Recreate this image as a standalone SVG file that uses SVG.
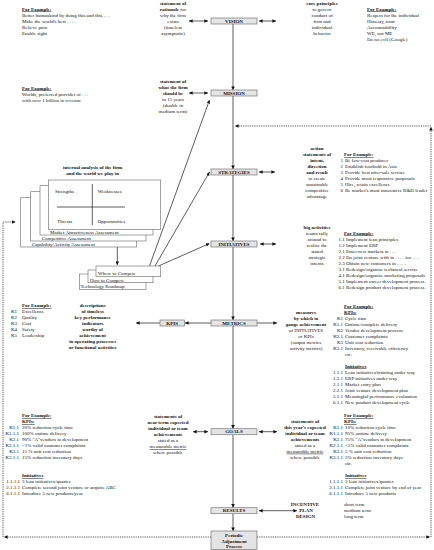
<svg xmlns="http://www.w3.org/2000/svg" width="434" height="550" viewBox="0 0 434 550">
<style>
.t{font-family:"Liberation Serif","Times New Roman",serif;font-size:5px;fill:#111}
.b{font-weight:bold}
.u{text-decoration:underline}
.m{text-anchor:middle}
.e{text-anchor:end}
.box{fill:#e4e4e4;stroke:#777;stroke-width:0.7}
.sb{fill:#fff;stroke:#666;stroke-width:0.6}
.ln{stroke:#333;stroke-width:0.8;fill:none}
.dot{stroke:#333;stroke-width:0.9;stroke-dasharray:0.9 0.9;fill:none}
</style>
<defs>
<marker id="ah" viewBox="0 0 6 6" refX="6" refY="3" markerWidth="3.6" markerHeight="3.6" markerUnits="userSpaceOnUse" orient="auto-start-reverse"><path d="M0,0L6,3L0,6z" fill="#111"/></marker>
</defs>
<rect width="434" height="550" fill="#fff"/>

<g id="connectors">
<path class="ln" d="M233,24V90" marker-end="url(#ah)"/>
<path class="ln" d="M233,96V169" marker-end="url(#ah)"/>
<path class="ln" d="M233,175V241" marker-end="url(#ah)"/>
<path class="ln" d="M233,247V320" marker-end="url(#ah)"/>
<path class="ln" d="M233,326V428.7" marker-end="url(#ah)"/>
<path class="ln" d="M233,434.7V507.7" marker-end="url(#ah)"/>
<path class="ln" d="M233,513.7V531" marker-end="url(#ah)"/>
<path class="ln" d="M189,21H208" marker-start="url(#ah)" marker-end="url(#ah)"/>
<path class="ln" d="M259,21H276" marker-start="url(#ah)" marker-end="url(#ah)"/>
<path class="ln" d="M189,93H208" marker-start="url(#ah)" marker-end="url(#ah)"/>
<path class="ln" d="M259,172H275" marker-start="url(#ah)" marker-end="url(#ah)"/>
<path class="ln" d="M260,244H276" marker-start="url(#ah)" marker-end="url(#ah)"/>
<path class="ln" d="M257,323H277" marker-end="url(#ah)"/>
<path class="ln" d="M211,323H185" marker-end="url(#ah)"/>
<path class="ln" d="M160,323H136" marker-end="url(#ah)"/>
<path class="ln" d="M193,431.7H208" marker-start="url(#ah)" marker-end="url(#ah)"/>
<path class="ln" d="M259,431.7H277" marker-start="url(#ah)" marker-end="url(#ah)"/>
<path class="ln" d="M259,510.7H297" marker-start="url(#ah)" marker-end="url(#ah)"/>
<path class="ln" d="M117.3,247V265" marker-end="url(#ah)"/>
<path class="ln" d="M149.5,266L209.5,100" marker-end="url(#ah)"/>
<path class="ln" d="M155,266L209.5,172" marker-end="url(#ah)"/>
<path class="ln" d="M158.5,266L209.5,243.5" marker-end="url(#ah)"/>
<path class="dot" d="M211,537H4" marker-end="url(#ah)"/>
<path class="dot" d="M3,537V222H15.5" marker-end="url(#ah)"/>
<path class="dot" d="M257,537H430" marker-end="url(#ah)"/>
<path class="dot" d="M431,537V127" marker-end="url(#ah)"/>
<path class="dot" d="M431,126H235" marker-end="url(#ah)"/>
</g>

<g id="vision"><rect class="box" x="211" y="18" width="46" height="6"/><text class="t b m" x="234" y="22.7">VISION</text></g>
<g id="mission"><rect class="box" x="211" y="90" width="46" height="6"/><text class="t b m" x="234" y="94.7">MISSION</text></g>
<g id="strategies"><rect class="box" x="211" y="169" width="46" height="6"/><text class="t b m" x="234" y="173.7">STRATEGIES</text></g>
<g id="initiatives"><rect class="box" x="211" y="241" width="46" height="6"/><text class="t b m" x="234" y="245.7">INITIATIVES</text></g>
<g id="metrics"><rect class="box" x="211" y="320" width="46" height="6"/><text class="t b m" x="234" y="324.7">METRICS</text></g>
<g id="kpis"><rect class="box" x="160" y="320" width="24.5" height="6"/><text class="t b m" x="172.2" y="324.7">KPIS</text></g>
<g id="goals"><rect class="box" x="211" y="428.7" width="46" height="6"/><text class="t b m" x="234" y="433.4">GOALS</text></g>
<g id="results"><rect class="box" x="211" y="507.7" width="46" height="6"/><text class="t b m" x="234" y="512.4">RESULTS</text></g>
<g id="periodic"><rect class="box" x="211" y="531" width="46" height="18.4"/>
<text class="t b m" x="234" y="536.6">Periodic</text><text class="t b m" x="234" y="542.5">Adjustment</text><text class="t b m" x="234" y="548.4">Process</text></g>

<g id="vision-notes">
<text class="t m" x="173" y="4.5"><tspan class="b">statement of</tspan></text>
<text class="t m" x="173" y="10.5"><tspan class="b">rationale</tspan> for</text>
<text class="t m" x="173" y="16.5">why the firm</text>
<text class="t m" x="173" y="22.5">exists</text>
<text class="t m" x="173" y="28.5">(timeless</text>
<text class="t m" x="173" y="34.5">asymptotic)</text>
<text class="t b u" x="22" y="10.5">For Example:</text>
<text class="t" x="22" y="16.5">Better humankind by doing this and this . . .</text>
<text class="t" x="22" y="22.5">Make the world's best . . .</text>
<text class="t" x="22" y="28.5">Relieve pain</text>
<text class="t" x="22" y="34.5">Enable sight</text>
<text class="t b m" x="322" y="4.5">core principles</text>
<text class="t m" x="322" y="10.5">to govern</text>
<text class="t m" x="322" y="16.5">conduct of</text>
<text class="t m" x="322" y="22.5">firm and</text>
<text class="t m" x="322" y="28.5">individual</text>
<text class="t m" x="322" y="34.5">behavior</text>
<text class="t b u" x="367" y="10.5">For Example:</text>
<text class="t" x="367" y="16.5">Respect for the individual</text>
<text class="t" x="367" y="22.5">Honesty, trust</text>
<text class="t" x="367" y="28.5">Accountability</text>
<text class="t" x="367" y="34.5">WE, not ME</text>
<text class="t" x="367" y="40.5">Do no evil (Google)</text>
</g>

<g id="mission-notes">
<text class="t b m" x="173" y="82.5">statement of</text>
<text class="t b m" x="173" y="88.5">what the firm</text>
<text class="t b m" x="173" y="94.5">should be</text>
<text class="t m" x="173" y="100.5">in 15 years</text>
<text class="t m" x="173" y="106.5">(double in</text>
<text class="t m" x="173" y="112.5">medium term)</text>
<text class="t b u" x="22" y="89.5">For Example:</text>
<text class="t" x="22" y="95.5">Worlds, preferred provider of . . .</text>
<text class="t" x="22" y="101.5">with over 1 billion in revenue</text>
</g>

<g id="analysis">
<text class="t b m" x="92.7" y="168.5">internal analysis of the firm</text>
<text class="t b m" x="92.7" y="174.5">and the world we play in</text>
<rect class="sb" x="20.7" y="197.7" width="116" height="49.3"/>
<rect class="sb" x="30.7" y="191.7" width="115.3" height="49.3"/>
<rect class="sb" x="40" y="185.7" width="113" height="49.3"/>
<rect class="sb" x="48.3" y="180" width="112.4" height="49.3"/>
<text class="t" x="31.7" y="246.4">Capability/Activity Assessment</text>
<text class="t" x="41.7" y="240.4">Competitive Assessment</text>
<text class="t" x="50" y="234.4">Market Attractiveness Assessment</text>
<path class="ln" d="M57,207H125M92.3,184V225" stroke-width="0.7"/>
<text class="t" x="55" y="192.8">Strengths</text>
<text class="t" x="97.7" y="192.8">Weaknesses</text>
<text class="t" x="57.3" y="222.8">Threats</text>
<text class="t" x="97.7" y="222.8">Opportunities</text>
</g>

<g id="compete">
<rect class="sb" x="79.3" y="274" width="66.7" height="15.3"/>
<rect class="sb" x="88" y="270" width="65" height="12.7"/>
<rect class="sb" x="96" y="266" width="64.7" height="10.7"/>
<text class="t" x="80.5" y="288.3">Technology Roadmap</text>
<text class="t" x="90" y="281.5">How to Compete</text>
<text class="t" x="98" y="275.3">Where to Compete</text>
</g>

<g id="strategies-notes">
<text class="t b m" x="317" y="150">action</text>
<text class="t b m" x="317" y="156">statements of</text>
<text class="t b m" x="317" y="162">intent,</text>
<text class="t b m" x="317" y="168">direction</text>
<text class="t b m" x="317" y="174">and result</text>
<text class="t m" x="317" y="180">to create</text>
<text class="t m" x="317" y="186">sustainable</text>
<text class="t m" x="317" y="192">competitive</text>
<text class="t m" x="317" y="198">advantage</text>
<text class="t b u" x="344" y="156">For Example:</text>
<text class="t"><tspan class="e" x="343" y="162">1</tspan><tspan x="345" y="162" text-anchor="start">Be low-cost producer</tspan></text>
<text class="t"><tspan class="e" x="343" y="168">2</tspan><tspan x="345" y="168" text-anchor="start">Establish foothold in Asia</tspan></text>
<text class="t"><tspan class="e" x="343" y="174">3</tspan><tspan x="345" y="174" text-anchor="start">Provide best after-sale service</tspan></text>
<text class="t"><tspan class="e" x="343" y="180">4</tspan><tspan x="345" y="180" text-anchor="start">Provide most responsive proposals</tspan></text>
<text class="t"><tspan class="e" x="343" y="186">5</tspan><tspan x="345" y="186" text-anchor="start">Hire, retain excellence</tspan></text>
<text class="t"><tspan class="e" x="343" y="192">6</tspan><tspan x="345" y="192" text-anchor="start">Be market's most innovative R&amp;D leader</tspan></text>
</g>

<g id="initiatives-notes">
<text class="t b m" x="317" y="228.5">big activities</text>
<text class="t m" x="317" y="234.5">teams rally</text>
<text class="t m" x="317" y="240.5">around to</text>
<text class="t m" x="317" y="246.5">realize the</text>
<text class="t m" x="317" y="252.5">stated</text>
<text class="t m" x="317" y="258.5">strategic</text>
<text class="t m" x="317" y="264.5">intents</text>
<text class="t b u" x="344" y="234.5">For Example:</text>
<text class="t" x="338.5" y="240.5">1.1<tspan x="346">Implement lean principles</tspan></text>
<text class="t" x="338.5" y="246.5">1.2<tspan x="346">Implement ERP</tspan></text>
<text class="t" x="338.5" y="252.5">2.1<tspan x="346">Enter new markets in . . .</tspan></text>
<text class="t" x="338.5" y="258.5">2.2<tspan x="346">Do joint venture with in . . . . for . . .</tspan></text>
<text class="t" x="338.5" y="264.5">2.3<tspan x="346">Obtain new customers in . . . .</tspan></text>
<text class="t" x="338.5" y="270.5">3.1<tspan x="346">Redesign/organize technical service</tspan></text>
<text class="t" x="338.5" y="276.5">4.1<tspan x="346">Redesign/organize marketing proposals</tspan></text>
<text class="t" x="338.5" y="282.5">5.1<tspan x="346">Implement career development process</tspan></text>
<text class="t" x="338.5" y="288.5">6.1<tspan x="346">Redesign product development process</tspan></text>
</g>

<g id="kpis-notes">
<text class="t b m" x="92.7" y="307">descriptions</text>
<text class="t b m" x="92.7" y="313">of timeless</text>
<text class="t b m" x="92.7" y="319">key performance</text>
<text class="t b m" x="92.7" y="325">indicators</text>
<text class="t b m" x="92.7" y="331">worthy of</text>
<text class="t b m" x="92.7" y="337">achievement</text>
<text class="t b m" x="92.7" y="343">in operating processes</text>
<text class="t b m" x="92.7" y="349">or functional activities</text>
<text class="t b u" x="22" y="307">For Example:</text>
<text class="t" x="11" y="313">K1<tspan x="22">Excellence</tspan></text>
<text class="t" x="11" y="319">K2<tspan x="22">Quality</tspan></text>
<text class="t" x="11" y="325">K3<tspan x="22">Cost</tspan></text>
<text class="t" x="11" y="331">K4<tspan x="22">Safety</tspan></text>
<text class="t" x="11" y="337">K5<tspan x="22">Leadership</tspan></text>
</g>

<g id="metrics-notes">
<text class="t b m" x="306" y="313.5">measures</text>
<text class="t b m" x="306" y="319.5">by which to</text>
<text class="t b m" x="306" y="325.5">gauge achievement</text>
<text class="t m" x="306" y="331.5">of INITIATIVES</text>
<text class="t m" x="306" y="337.5">or KPIs</text>
<text class="t m" x="306" y="343.5">(output metrics</text>
<text class="t m" x="306" y="349.5">activity metrics)</text>
<text class="t b u" x="344" y="307.5">For Example:</text>
<text class="t b u" x="344" y="313.5">KPIs:</text>
<text class="t"><tspan class="e" x="343" y="319.5">K1</tspan><tspan x="345" y="319.5" text-anchor="start">Cycle time</tspan></text>
<text class="t"><tspan class="e" x="343" y="325.5">K1.1</tspan><tspan x="345" y="325.5" text-anchor="start">Ontime/complete delivery</tspan></text>
<text class="t"><tspan class="e" x="343" y="331.5">K2</tspan><tspan x="345" y="331.5" text-anchor="start">Vendor development process</tspan></text>
<text class="t"><tspan class="e" x="343" y="337.5">K2.1</tspan><tspan x="345" y="337.5" text-anchor="start">Customer complaints</tspan></text>
<text class="t"><tspan class="e" x="343" y="343.5">K3</tspan><tspan x="345" y="343.5" text-anchor="start">Unit cost reduction</tspan></text>
<text class="t"><tspan class="e" x="343" y="349.5">K3.1</tspan><tspan x="345" y="349.5" text-anchor="start">Inventory, receivable efficiency</tspan></text>
<text class="t" x="345" y="355.5">etc.</text>
<text class="t b u" x="345" y="367.5">Initiatives</text>
<text class="t"><tspan class="e" x="343" y="373.5">1.1.1</tspan><tspan x="345" y="373.5" text-anchor="start">Lean initiatives/training under way</tspan></text>
<text class="t"><tspan class="e" x="343" y="379.5">1.2.1</tspan><tspan x="345" y="379.5" text-anchor="start">ERP initiatives under way</tspan></text>
<text class="t"><tspan class="e" x="343" y="385.5">2.1.1</tspan><tspan x="345" y="385.5" text-anchor="start">Market entry plan</tspan></text>
<text class="t"><tspan class="e" x="343" y="391.5">2.2.1</tspan><tspan x="345" y="391.5" text-anchor="start">Joint venture development plan</tspan></text>
<text class="t"><tspan class="e" x="343" y="397.5">5.1.1</tspan><tspan x="345" y="397.5" text-anchor="start">Meaningful performance evaluation</tspan></text>
<text class="t"><tspan class="e" x="343" y="403.5">6.1.1</tspan><tspan x="345" y="403.5" text-anchor="start">New product development cycle</tspan></text>
</g>

<g id="goals-notes">
<text class="t b m" x="168" y="418">statements of</text>
<text class="t b m" x="168" y="424">near term expected</text>
<text class="t b m" x="168" y="430">individual or team</text>
<text class="t b m" x="168" y="436">achievements</text>
<text class="t m" x="168" y="442">stated as a</text>
<text class="t m u" x="168" y="448">measurable metric</text>
<text class="t m" x="168" y="454">where possible</text>
<text class="t b m" x="305" y="422.7">statements of</text>
<text class="t b m" x="305" y="428.7">this year's expected</text>
<text class="t b m" x="305" y="434.7">individual or team</text>
<text class="t b m" x="305" y="440.7">achievements</text>
<text class="t m" x="305" y="446.7">stated as a</text>
<text class="t m u" x="305" y="452.7">measurable metric</text>
<text class="t m" x="305" y="458.7">where possible</text>

<text class="t b u" x="22" y="417">For Example:</text>
<text class="t b u" x="22" y="423">KPIs:</text>
<text class="t"><tspan class="e" x="19" y="428.7">K1.1</tspan><tspan x="22" y="428.7" text-anchor="start">20% reduction cycle time</tspan></text>
<text class="t"><tspan class="e" x="19" y="434.7">K1.1.1</tspan><tspan x="22" y="434.7" text-anchor="start">100% ontime delivery</tspan></text>
<text class="t"><tspan class="e" x="19" y="440.7">K2.1</tspan><tspan x="22" y="440.7" text-anchor="start">90% "A"vendors in development</tspan></text>
<text class="t"><tspan class="e" x="19" y="446.7">K2.1.1</tspan><tspan x="22" y="446.7" text-anchor="start">&lt;1% valid customer complaints</tspan></text>
<text class="t"><tspan class="e" x="19" y="452.7">K3.1</tspan><tspan x="22" y="452.7" text-anchor="start">15 % unit cost reduction</tspan></text>
<text class="t"><tspan class="e" x="19" y="458.7">K3.1.1</tspan><tspan x="22" y="458.7" text-anchor="start">15% reduction inventory days</tspan></text>
<text class="t b u" x="22" y="477">Initiatives</text>
<text class="t"><tspan class="e" x="20" y="483">1.1.1.1</tspan><tspan x="22" y="483" text-anchor="start">3 lean initiatives/quarter</tspan></text>
<text class="t"><tspan class="e" x="20" y="489">2.1.1.1</tspan><tspan x="22" y="489" text-anchor="start">Complete second joint venture or acquire ABC</tspan></text>
<text class="t"><tspan class="e" x="20" y="495">6.1.1.1</tspan><tspan x="22" y="495" text-anchor="start">Introduce 5 new products/year</tspan></text>

<text class="t b u" x="344" y="417">For Example:</text>
<text class="t b u" x="344" y="423">KPIs:</text>
<text class="t"><tspan class="e" x="343" y="428.7">K1.1</tspan><tspan x="345" y="428.7" text-anchor="start">10% reduction cycle time</tspan></text>
<text class="t"><tspan class="e" x="343" y="434.7">K1.1.1</tspan><tspan x="345" y="434.7" text-anchor="start">95% ontime delivery</tspan></text>
<text class="t"><tspan class="e" x="343" y="440.7">K2.1</tspan><tspan x="345" y="440.7" text-anchor="start">75% "A"vendors in development</tspan></text>
<text class="t"><tspan class="e" x="343" y="446.7">K2.1.1</tspan><tspan x="345" y="446.7" text-anchor="start">&lt;5% valid customer complaints</tspan></text>
<text class="t"><tspan class="e" x="343" y="452.7">K3.1</tspan><tspan x="345" y="452.7" text-anchor="start">5 % unit cost reduction</tspan></text>
<text class="t"><tspan class="e" x="343" y="458.7">K3.1.1</tspan><tspan x="345" y="458.7" text-anchor="start">5% reduction inventory days</tspan></text>
<text class="t" x="345" y="464.7">etc.</text>
<text class="t b u" x="345" y="477">Initiatives</text>
<text class="t"><tspan class="e" x="343" y="483">1.1.1.1</tspan><tspan x="345" y="483" text-anchor="start">3 lean initiatives/quarter</tspan></text>
<text class="t"><tspan class="e" x="343" y="489">2.1.1.1</tspan><tspan x="345" y="489" text-anchor="start">Complete joint venture by end of year</tspan></text>
<text class="t"><tspan class="e" x="343" y="495">6.1.1.1</tspan><tspan x="345" y="495" text-anchor="start">Introduce 5 new products</tspan></text>
</g>

<g id="results-notes">
<text class="t b m" x="305" y="506">INCENTIVE</text>
<text class="t b m" x="306" y="512">PLAN</text>
<text class="t b m" x="305.5" y="518">DESIGN</text>
<text class="t" x="344" y="506">short term</text>
<text class="t" x="344" y="512">medium term</text>
<text class="t" x="344" y="518">long term</text>
</g>
</svg>
